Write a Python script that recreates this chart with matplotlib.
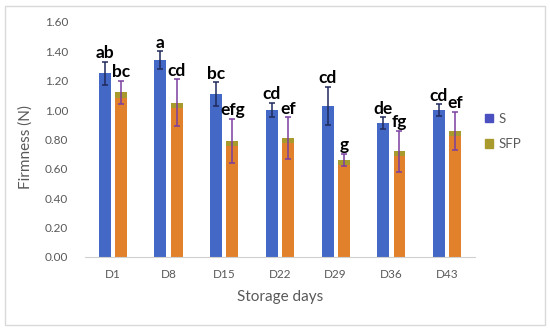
# Firmness of S and SFP samples over storage days
import matplotlib.pyplot as plt
from matplotlib.patches import Patch, Rectangle
import numpy as np

plt.rcParams['font.family'] = ['Lato', 'DejaVu Sans']

# Data
days = ['D1', 'D8', 'D15', 'D22', 'D29', 'D36', 'D43']
s_mean = [1.25, 1.34, 1.11, 1.00, 1.03, 0.91, 1.00]
s_err = [0.08, 0.06, 0.08, 0.05, 0.13, 0.04, 0.04]
sfp_mean = [1.12, 1.05, 0.79, 0.81, 0.66, 0.72, 0.86]
sfp_err = [0.08, 0.16, 0.15, 0.14, 0.04, 0.14, 0.13]
s_letters = ['ab', 'a', 'bc', 'cd', 'cd', 'de', 'cd']
sfp_letters = ['bc', 'cd', 'efg', 'ef', 'g', 'fg', 'ef']

blue = '#4468c6'
orange = '#e2812c'
olive = '#a89a2c'
grey = '#595959'

fig = plt.figure(figsize=(5.5, 3.31), dpi=100)
ax = fig.add_axes([0.1545, 0.2236, 0.709, 0.71])

x = np.arange(len(days))
off = 0.146
w = 0.215
cap = 0.035  # olive band at top of SFP bars

ax.bar(x - off, s_mean, w, color=blue)
sfp_arr = np.array(sfp_mean)
ax.bar(x + off, sfp_arr - cap, w, color=orange)
ax.bar(x + off, cap, w, bottom=sfp_arr - cap, color=olive)

ax.errorbar(x - off, s_mean, yerr=s_err, fmt='none', ecolor='#1f2a5c',
            elinewidth=1.1, capsize=2.5, capthick=1.1)
ax.errorbar(x + off, sfp_mean, yerr=sfp_err, fmt='none', ecolor='#7b3fa0',
            elinewidth=1.1, capsize=2.5, capthick=1.1)

for i in range(len(days)):
    ax.annotate(s_letters[i], (x[i] - off, s_mean[i] + s_err[i]),
                xytext=(0, 0.5), textcoords='offset points', ha='center',
                va='bottom', fontsize=12.5, fontweight='bold', color='black')
    ax.annotate(sfp_letters[i], (x[i] + off, sfp_mean[i] + sfp_err[i]),
                xytext=(0, 0.5), textcoords='offset points', ha='center',
                va='bottom', fontsize=12.5, fontweight='bold', color='black')

ax.set_xlim(-0.5, len(days) - 0.5)
ax.set_ylim(0, 1.6)
ax.set_yticks(np.arange(0, 1.61, 0.2))
ax.set_yticklabels([f'{v:.2f}' for v in np.arange(0, 1.61, 0.2)])
ax.set_xticks(x)
ax.set_xticklabels(days)
ax.tick_params(axis='both', length=0, labelsize=8.5, colors=grey, pad=9)
ax.tick_params(axis='y', pad=12)

for side in ['top', 'right', 'left']:
    ax.spines[side].set_visible(False)
ax.spines['bottom'].set_color('#d0d0d0')

ax.set_xlabel('Storage days', fontsize=11, color=grey, labelpad=7)
ax.set_ylabel('Firmness (N)', fontsize=11, color=grey)
ax.yaxis.set_label_coords(-0.133, 0.468)

handles = [Patch(color='#4a50c0', label='S'), Patch(color=olive, label='SFP')]
fig.legend(handles=handles, loc='upper left', bbox_to_anchor=(0.86, 0.695),
           frameon=False, fontsize=9.5, handlelength=0.6, handleheight=0.6,
           handletextpad=0.4, labelspacing=1.0, labelcolor=grey)

fig.patches.append(Rectangle((0.009, 0.017), 0.982, 0.966, transform=fig.transFigure,
                             fill=False, edgecolor='#d9d9d9', linewidth=1))

plt.savefig('out.png')
plt.close()
